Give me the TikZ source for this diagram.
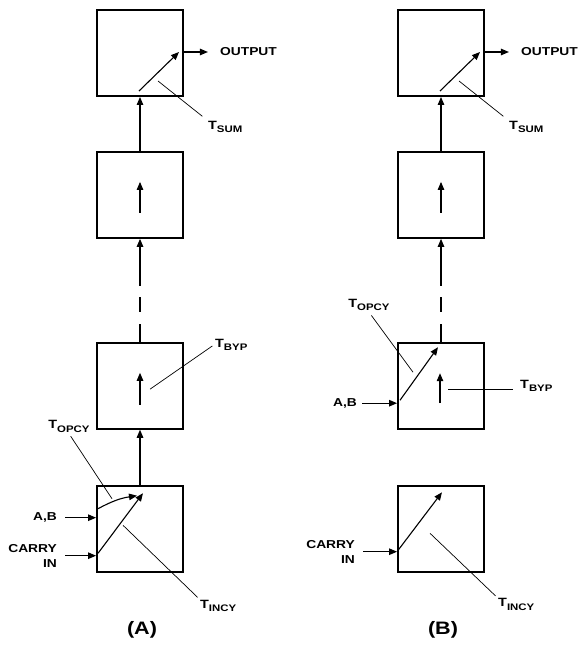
\documentclass[tikz,border=0pt]{standalone}
\usepackage{fontspec}
\setmainfont{Liberation Sans}[FakeStretch=1.2]
\usetikzlibrary{arrows.meta, positioning, calc}

\newcommand{\tsub}[1]{{\fontsize{12}{12}\selectfont T}\raisebox{-3.5pt}{\fontsize{9.5}{9.5}\selectfont #1}}

\begin{document}
\begin{tikzpicture}[
    x=1pt, y=1pt,
    node distance=54pt,
    >={Triangle[length=8pt,width=6.5pt]},
    every node/.style={font=\fontsize{11.5}{15}\selectfont\bfseries},
    blk/.style={rectangle, draw, line width=1.9pt, minimum width=86pt, minimum height=86pt, inner sep=0pt},
    flow/.style={->, line width=1.1pt},
    gap/.style={->, line width=1.1pt, dash pattern=on 18pt off 12pt on 15pt off 11pt on 80pt},
    lead/.style={line width=0.7pt},
    lbl/.style={inner sep=1pt}
  ]
  \useasboundingbox (0,0) rectangle (578,-651);

  % (A) column
  \node[blk] (a1) at (140,-53) {};
  \node[blk, below=of a1] (a2) {};
  \node[blk, below=103pt of a2] (a3) {};
  \node[blk, below=55pt of a3] (a4) {};

  \draw[flow] (a2) -- (a1);
  \draw[gap] (a3) -- (a2);
  \draw[flow] (a4) -- (a3);

  % sum stage
  \draw[flow] ($(a1.center)+(-1,-38)$) -- ($(a1.center)+(39,1)$);
  \node[lbl, anchor=west] (outA) at ($(a1.east)+(35,1)$) {OUTPUT};
  \draw[flow, shorten >=11pt] (outA.west -| a1.east) -- (outA.west);
  \node[lbl, anchor=north west] (sumA) at ($(a1.center)+(67,-67)$) {\tsub{SUM}};
  \coordinate (sumAin) at ($(a1.center)+(18,-28)$);
  \draw[lead, shorten >=6pt] (sumAin) -- (sumA.north west);

  \draw[flow] ($(a2.center)+(0,-18)$) -- ($(a2.center)+(0,13)$);

  % bypass stage
  \draw[flow] ($(a3.center)+(0,-19)$) -- ($(a3.center)+(0,13)$);
  \node[lbl, anchor=west] (bypA) at ($(a3.center)+(74,41)$) {\tsub{BYP}};
  \coordinate (bypAin) at ($(a3.center)+(10,-3.4)$);
  \draw[lead, shorten >=2pt] (bypAin) -- (bypA.west);

  % first stage
  \draw[flow] ($(a4.west)+(2,20)$) to[bend left=10] ($(a4.center)+(-3,33)$);
  \draw[flow] ($(a4.west)+(2,-24.5)$) -- ($(a4.center)+(3,35.5)$);
  \node[lbl, anchor=east] (abA) at ($(a4.west)+(-38,11)$) {A,B};
  \draw[flow, shorten <=7pt] (abA.east) -- (abA.east -| a4.west);
  \node[lbl, anchor=east, align=right] (ciA) at ($(a4.west)+(-38,-27)$) {CARRY\\IN};
  \draw[flow, shorten <=7pt] (ciA.east) -- (ciA.east -| a4.west);
  \node[lbl, anchor=south] (opcyA) at ($(a4.center)+(-71,95)$) {\tsub{OPCY}};
  \coordinate (opcyAin) at ($(a4.center)+(-28,30)$);
  \draw[lead, shorten >=3pt] (opcyAin) -- (opcyA.south);
  \node[lbl, anchor=north west] (incyA) at ($(a4.center)+(59,-70)$) {\tsub{INCY}};
  \coordinate (incyAin) at ($(a4.center)+(-17,3.4)$);
  \draw[lead, shorten >=2pt] (incyAin) -- (incyA.north west);

  % (B) column
  \node[blk] (b1) at (441,-53) {};
  \node[blk, below=of b1] (b2) {};
  \node[blk, below=103pt of b2] (b3) {};
  \node[blk, below=55pt of b3] (b4) {};

  \draw[flow] (b2) -- (b1);
  \draw[gap] (b3) -- (b2);

  \draw[flow] ($(b1.center)+(-1,-38)$) -- ($(b1.center)+(39,1)$);
  \node[lbl, anchor=west] (outB) at ($(b1.east)+(35,1)$) {OUTPUT};
  \draw[flow, shorten >=11pt] (outB.west -| b1.east) -- (outB.west);
  \node[lbl, anchor=north west] (sumB) at ($(b1.center)+(67,-67)$) {\tsub{SUM}};
  \coordinate (sumBin) at ($(b1.center)+(18,-28)$);
  \draw[lead, shorten >=6pt] (sumBin) -- (sumB.north west);

  \draw[flow] ($(b2.center)+(0,-18)$) -- ($(b2.center)+(0,13)$);

  \node[lbl, anchor=east] (abB) at ($(b3.west)+(-39,-17.4)$) {A,B};
  \draw[flow, shorten <=4pt] (abB.east) -- (abB.east -| b3.west);
  \draw[flow] ($(b3.west)+(3,-14.4)$) -- ($(b3.center)+(-3,38.6)$);
  \draw[flow] ($(b3.center)+(-1,-17.4)$) -- ($(b3.center)+(-1,12.6)$);
  \node[lbl, anchor=west] (bypB) at ($(b3.center)+(78,0)$) {\tsub{BYP}};
  \coordinate (bypBin) at ($(b3.center)+(7,-3.4)$);
  \draw[lead, shorten >=6pt] (bypBin) -- (bypBin -| bypB.west);
  \node[lbl, anchor=south] (opcyB) at ($(b3.center)+(-72,73.6)$) {\tsub{OPCY}};
  \coordinate (opcyBin) at ($(b3.center)+(-28,13.6)$);
  \draw[lead, shorten >=4pt] (opcyBin) -- (opcyB.south);

  \node[lbl, anchor=east, align=right] (ciB) at ($(b4.west)+(-41,-23)$) {CARRY\\IN};
  \draw[flow, shorten <=7pt] (ciB.east) -- (ciB.east -| b4.west);
  \draw[flow] ($(b4.west)+(1,-21.6)$) -- ($(b4.center)+(1,36.4)$);
  \node[lbl, anchor=north west] (incyB) at ($(b4.center)+(56,-68.6)$) {\tsub{INCY}};
  \coordinate (incyBin) at ($(b4.center)+(-11,-4.6)$);
  \draw[lead, shorten >=2pt] (incyBin) -- (incyB.north west);

  % captions
  \node[font=\fontsize{18}{18}\selectfont\bfseries] (capA) at (142,-630) {(A)};
  \node[font=\fontsize{18}{18}\selectfont\bfseries] (capB) at (443,-630) {(B)};

\end{tikzpicture}
\end{document}
